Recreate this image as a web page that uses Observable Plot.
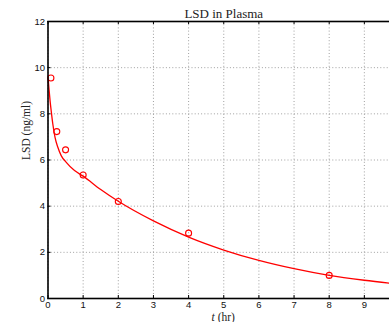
<!DOCTYPE html>
<html>
<head>
<meta charset="utf-8">
<script src="https://cdn.jsdelivr.net/npm/d3@7"></script>
<script src="https://cdn.jsdelivr.net/npm/@observablehq/plot@0.6"></script>
<style>
  html, body { margin: 0; padding: 0; background: #fff; overflow: hidden; }
  #wrap { width: 389px; height: 322px; overflow: hidden; }
  #wrap svg { max-width: none !important; height: 322px !important; }
</style>
</head>
<body>
<div id="wrap"></div>
<script>
// Measured samples (hours, ng/ml)
const sampleTimes = [0.083, 0.25, 0.5, 1, 2, 4, 8];
const sampleConc  = [9.55, 7.23, 6.44, 5.35, 4.2, 2.83, 1.0];

// Fitted curve
const fitTimes = [0, 0.03, 0.06, 0.09, 0.137, 0.2, 0.28, 0.375, 0.52, 0.755, 1, 1.5, 2, 3, 4, 5, 6, 7, 8, 9, 10];
const fitConc  = [9.6, 9.05, 8.55, 8.14, 7.56, 6.98, 6.55, 6.19, 5.9, 5.54, 5.3, 4.72, 4.21, 3.36, 2.66, 2.1, 1.65, 1.29, 1.0, 0.79, 0.62];

const xTicks = [0, 1, 2, 3, 4, 5, 6, 7, 8, 9];
const yTicks = [0, 2, 4, 6, 8, 10, 12];

const titleText = "LSD in Plasma";
const yLabelText = "LSD (ng/ml)";

const points = sampleTimes.map((t, i) => ({t, c: sampleConc[i]}));
const fit = fitTimes.map((t, i) => ({t, c: fitConc[i]}));

const W = 399, H = 322, ML = 47.5, MT = 21, MB = 24, MR = 0;
const frameH = H - MT - MB;
const frameW = W - ML - MR;
const tickLen = 3;
const gridStyle = {stroke: "#888", strokeOpacity: 1, strokeWidth: 0.8, strokeDasharray: "1,2.2"};
const serif = "'Liberation Serif', 'DejaVu Serif', serif";

const chart = Plot.plot({
  width: W, height: H,
  marginLeft: ML, marginTop: MT, marginBottom: MB, marginRight: MR,
  style: {fontFamily: "'Liberation Sans', Arial, sans-serif", fontSize: "9.5px", color: "#111", background: "#fff", overflow: "visible", maxWidth: "none"},
  x: {domain: [0, 10]},
  y: {domain: [0, 12]},
  marks: [
    Plot.gridX(xTicks, gridStyle),
    Plot.gridY(yTicks, gridStyle),
    Plot.line(fit, {x: "t", y: "c", stroke: "#ff0000", strokeWidth: 1.3, curve: "monotone-x"}),
    Plot.dot(points, {x: "t", y: "c", r: 3, stroke: "#ff0000", fill: "none", strokeWidth: 1.1}),
    Plot.tickX(xTicks, {x: d => d, insetTop: frameH - tickLen, stroke: "#000", strokeWidth: 1}),
    Plot.tickX(xTicks, {x: d => d, insetBottom: frameH - tickLen, stroke: "#000", strokeWidth: 1}),
    Plot.tickY(yTicks, {y: d => d, insetRight: frameW - tickLen, stroke: "#000", strokeWidth: 1}),
    Plot.frame({stroke: "#000", strokeWidth: 1.6}),
    Plot.axisX(xTicks, {tickSize: 0, tickPadding: 3, label: null, fill: "#111"}),
    Plot.axisY(yTicks, {tickSize: 0, tickPadding: 3, label: null, fill: "#111"}),
    Plot.text([titleText], {frameAnchor: "top", lineAnchor: "bottom", dy: -4, fontFamily: serif, fontSize: 13, fill: "#222"}),
    Plot.text([yLabelText], {frameAnchor: "left", dx: -22, rotate: -90, fontFamily: serif, fontSize: 11.5, fill: "#222"})
  ]
});

// x-axis label with italic t
const xs = chart.scale("x");
const svg = d3.select(chart);
const xl = svg.append("text")
  .attr("x", xs.apply(5))
  .attr("y", H - 1)
  .attr("text-anchor", "middle")
  .attr("font-family", serif)
  .attr("font-size", 11.5)
  .attr("fill", "#222");
xl.append("tspan").attr("font-style", "italic").text("t");
xl.append("tspan").text(" (hr)");

document.getElementById("wrap").appendChild(chart);
</script>
</body>
</html>
